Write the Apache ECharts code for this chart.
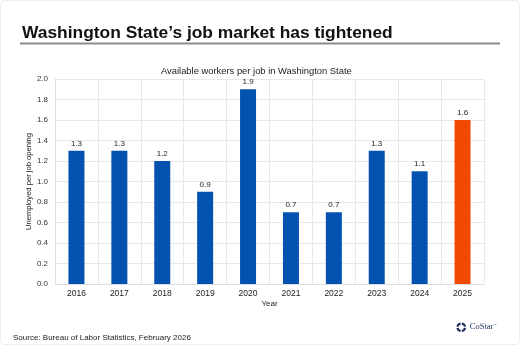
<!DOCTYPE html>
<html><head><meta charset="utf-8">
<script src="https://cdn.jsdelivr.net/npm/echarts@6/dist/echarts.min.js"></script>
<style>html,body{margin:0;padding:0;background:#fff}#c{width:520px;height:346px}</style>
</head><body><div id="c"></div>
<script>
var categories = ['2016','2017','2018','2019','2020','2021','2022','2023','2024','2025'];
var values = [1.3, 1.3, 1.2, 0.9, 1.9, 0.7, 0.7, 1.3, 1.1, 1.6];
var highlightIndex = 9;

var chart = echarts.init(document.getElementById('c'), null, {renderer: 'canvas'});
var font = 'Liberation Sans, Arial, sans-serif';
chart.setOption({
  animation: false,
  textStyle: {fontFamily: font},
  title: [
    {text: 'Washington State\u2019s job market has tightened', left: 17, top: 20,
     textStyle: {fontSize: 17.4, fontWeight: 'bold', color: '#111', fontFamily: font}},
    {text: 'Available workers per job in Washington State', left: 156, top: 62,
     textStyle: {fontSize: 9.4, fontWeight: 'normal', color: '#222', fontFamily: font}},
    {text: 'Source: Bureau of Labor Statistics, February 2026', left: 8, top: 329,
     textStyle: {fontSize: 8, fontWeight: 'normal', color: '#222', fontFamily: font}}
  ],
  graphic: [
    {type: 'line', shape: {x1: 20, y1: 43.5, x2: 500, y2: 43.5}, style: {stroke: '#8c8c8c', lineWidth: 2}},
    {type: 'rect', shape: {x: 0.5, y: 0.5, width: 519, height: 344, r: 4}, style: {fill: 'none', stroke: '#eeeeee', lineWidth: 1}},
    {type: 'group', left: 455, top: 321, children: [
      {type: 'arc', shape: {cx: 4.5, cy: 4.5, r: 3.8, startAngle: -Math.PI*0.95, endAngle: -Math.PI*0.55}, style: {stroke: '#1b2f5c', lineWidth: 2.2, fill: 'none'}},
      {type: 'arc', shape: {cx: 4.5, cy: 4.5, r: 3.8, startAngle: -Math.PI*0.45, endAngle: -Math.PI*0.05}, style: {stroke: '#1b2f5c', lineWidth: 2.2, fill: 'none'}},
      {type: 'arc', shape: {cx: 4.5, cy: 4.5, r: 3.8, startAngle: Math.PI*0.05, endAngle: Math.PI*0.45}, style: {stroke: '#1b2f5c', lineWidth: 2.2, fill: 'none'}},
      {type: 'arc', shape: {cx: 4.5, cy: 4.5, r: 3.8, startAngle: Math.PI*0.55, endAngle: Math.PI*0.95}, style: {stroke: '#1b2f5c', lineWidth: 2.2, fill: 'none'}},
      {type: 'text', left: 13, top: 0, style: {text: 'CoStar', font: '8.5px "Liberation Serif", "DejaVu Serif", serif', fill: '#1b2f5c'}},
      {type: 'text', left: 37, top: 1, style: {text: '\u2122', font: '3px sans-serif', fill: '#1b2f5c'}}
    ]}
  ],
  grid: {left: 55, right: 36, top: 79, bottom: 62, containLabel: false},
  xAxis: {
    type: 'category', data: categories,
    name: 'Year', nameLocation: 'middle', nameGap: 16, nameMoveOverlap: false,
    nameTextStyle: {fontSize: 8, color: '#222', fontFamily: font},
    axisLine: {show: true, lineStyle: {color: '#e0e0e0'}},
    axisTick: {show: false},
    axisLabel: {fontSize: 8.5, color: '#222', margin: 5, fontFamily: font},
    splitLine: {show: true, lineStyle: {color: '#e8e8e8'}}
  },
  yAxis: {
    type: 'value', min: 0, max: 2, interval: 0.2,
    name: 'Unemployed per job opening', nameLocation: 'middle', nameGap: 22, nameRotate: 90, nameMoveOverlap: false,
    nameTextStyle: {fontSize: 7.6, color: '#222', fontFamily: font},
    axisLine: {show: true, lineStyle: {color: '#e0e0e0'}},
    axisTick: {show: false},
    axisLabel: {fontSize: 8, color: '#333', margin: 7, fontFamily: font,
      formatter: function (v) { return v.toFixed(1); }},
    splitLine: {show: true, lineStyle: {color: '#e8e8e8'}}
  },
  series: [{
    type: 'bar', barWidth: 16,
    data: values.map(function (v, i) {
      return {value: v, itemStyle: {color: i === highlightIndex ? '#f04a00' : '#0452b0'}};
    }),
    label: {show: true, position: 'top', distance: 3, fontSize: 8, color: '#222', fontFamily: font,
      formatter: function (p) { return p.value.toFixed(1); }}
  }]
});
</script></body></html>
